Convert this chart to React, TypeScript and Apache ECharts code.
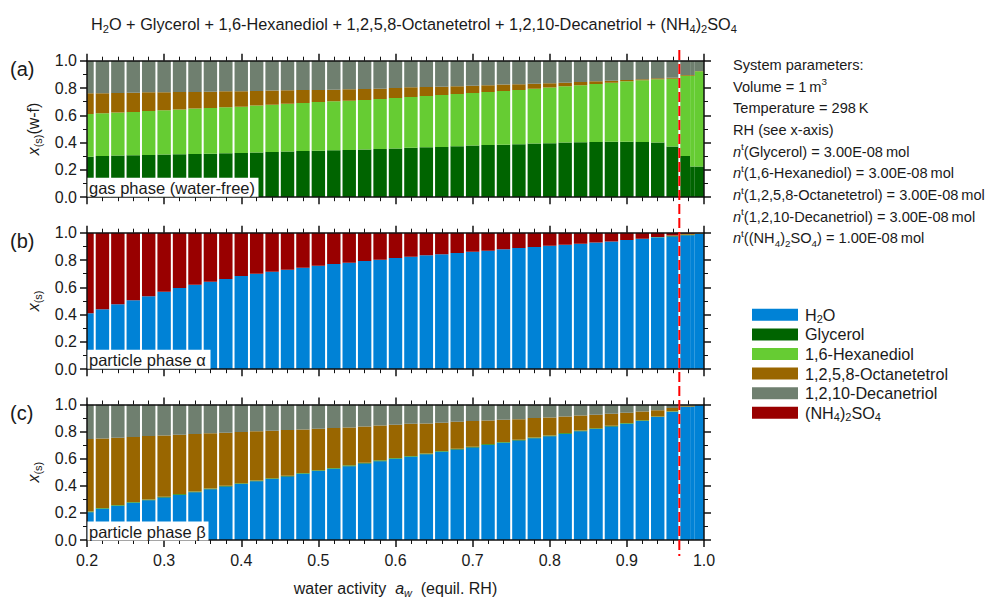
import React, { useEffect, useRef } from "react";
import * as echarts from "echarts";

// Bar bin edges in water activity (regular bins of 0.02 centred on 0.20 ... 0.96, then narrow high-aw bins)
const binEdges = [
  0.19, 0.21, 0.23, 0.25, 0.27, 0.29, 0.31, 0.33, 0.35, 0.37, 0.39, 0.41, 0.43, 0.45, 0.47, 0.49, 0.51, 0.53, 0.55, 0.57,
  0.59, 0.61, 0.63, 0.65, 0.67, 0.69, 0.71, 0.73, 0.75, 0.77, 0.79, 0.81, 0.83, 0.85, 0.87, 0.89, 0.91, 0.93, 0.95,
  0.968, 0.982, 0.988, 1.0,
];
const regularBarCount = 39;
const phaseSeparationAw = 0.968;

const names = ["H2O", "Glycerol", "1,6-Hexanediol", "1,2,5,8-Octanetetrol", "1,2,10-Decanetriol", "(NH4)2SO4"];

// (a) gas phase (water-free)
const gasGlycerol = [0.297, 0.302, 0.305, 0.307, 0.310, 0.312, 0.315, 0.317, 0.319, 0.322, 0.324, 0.327, 0.332, 0.334, 0.339, 0.341, 0.344, 0.346, 0.349, 0.354, 0.356,
  0.363, 0.366, 0.368, 0.373, 0.378, 0.383, 0.385, 0.388, 0.393, 0.395, 0.400, 0.402, 0.405, 0.407, 0.407, 0.405, 0.400, 0.371,
  0.302, 0.224, 0.224];
const gasHexanediol = [0.313, 0.313, 0.315, 0.317, 0.322, 0.325, 0.327, 0.332, 0.335, 0.337, 0.339, 0.344, 0.346, 0.351, 0.351, 0.357, 0.359, 0.361, 0.363, 0.366, 0.371,
  0.371, 0.376, 0.381, 0.383, 0.386, 0.388, 0.393, 0.398, 0.402, 0.408, 0.412, 0.418, 0.424, 0.432, 0.442, 0.451, 0.464, 0.497,
  0.588, 0.666, 0.698];
const gasOctanetetrol = [0.151, 0.146, 0.144, 0.142, 0.136, 0.131, 0.129, 0.122, 0.119, 0.117, 0.113, 0.107, 0.103, 0.098, 0.096, 0.088, 0.085, 0.083, 0.081, 0.075, 0.073,
  0.071, 0.065, 0.061, 0.056, 0.053, 0.049, 0.047, 0.041, 0.037, 0.031, 0.027, 0.024, 0.020, 0.015, 0.010, 0.008, 0.007, 0.008,
  0.005, 0.005, 0.003];
const gasDecanetriol = [0.239, 0.239, 0.236, 0.234, 0.232, 0.232, 0.229, 0.229, 0.227, 0.224, 0.224, 0.222, 0.219, 0.217, 0.214, 0.214, 0.212, 0.210, 0.207, 0.205, 0.200,
  0.195, 0.193, 0.190, 0.188, 0.183, 0.180, 0.175, 0.173, 0.168, 0.166, 0.161, 0.156, 0.151, 0.146, 0.141, 0.136, 0.129, 0.124,
  0.105, 0.105, 0.075];

// (b) particle phase alpha
const alphaWater = [0.409, 0.440, 0.475, 0.506, 0.535, 0.567, 0.594, 0.619, 0.641, 0.660, 0.682, 0.699, 0.714, 0.729, 0.743, 0.758, 0.770, 0.780, 0.792, 0.802, 0.814,
  0.824, 0.834, 0.843, 0.851, 0.860, 0.868, 0.878, 0.887, 0.895, 0.904, 0.912, 0.919, 0.929, 0.936, 0.946, 0.956, 0.966, 0.973,
  0.981, 0.981, 0.990];
const alphaGlycerol = [0, 0, 0, 0, 0, 0, 0, 0, 0, 0, 0, 0, 0, 0, 0, 0, 0, 0, 0, 0, 0,
  0, 0, 0, 0, 0, 0, 0, 0, 0, 0, 0, 0, 0, 0, 0, 0, 0.001, 0.002,
  0.002, 0.002, 0.001];
const alphaHexanediol = [0, 0, 0, 0, 0, 0, 0, 0, 0, 0, 0, 0, 0, 0, 0, 0, 0, 0, 0, 0, 0,
  0, 0, 0, 0, 0, 0, 0, 0, 0, 0, 0, 0, 0, 0, 0, 0, 0.001, 0.002,
  0.002, 0.002, 0.001];
const alphaOctanetetrol = [0, 0, 0, 0, 0, 0, 0, 0, 0, 0, 0, 0, 0, 0, 0, 0, 0, 0, 0, 0, 0,
  0, 0, 0, 0, 0, 0, 0, 0, 0, 0, 0, 0, 0, 0, 0, 0, 0, 0.002,
  0.006, 0.006, 0.004];
const alphaDecanetriol = [0, 0, 0, 0, 0, 0, 0, 0, 0, 0, 0, 0, 0, 0, 0, 0, 0, 0, 0, 0, 0,
  0, 0, 0, 0, 0, 0, 0, 0, 0, 0, 0, 0, 0, 0, 0, 0, 0, 0,
  0.002, 0.002, 0.001];
const alphaAmmoniumSulfate = [0.591, 0.560, 0.525, 0.494, 0.465, 0.433, 0.406, 0.381, 0.359, 0.340, 0.318, 0.301, 0.286, 0.271, 0.257, 0.242, 0.230, 0.220, 0.208, 0.198, 0.186,
  0.176, 0.166, 0.157, 0.149, 0.140, 0.132, 0.122, 0.113, 0.105, 0.096, 0.088, 0.081, 0.071, 0.064, 0.054, 0.044, 0.032, 0.021,
  0.007, 0.007, 0.003];

// (c) particle phase beta
const betaWater = [0.205, 0.230, 0.252, 0.274, 0.293, 0.313, 0.333, 0.352, 0.374, 0.394, 0.413, 0.433, 0.450, 0.469, 0.489, 0.509, 0.526, 0.545, 0.565, 0.582, 0.599,
  0.614, 0.633, 0.651, 0.668, 0.682, 0.702, 0.717, 0.734, 0.751, 0.766, 0.783, 0.802, 0.819, 0.838, 0.858, 0.878, 0.907, 0.946,
  0.983, 0.983, 0.996];
const betaGlycerol = [0.004, 0.004, 0.004, 0.004, 0.004, 0.004, 0.004, 0.004, 0.004, 0.004, 0.004, 0.004, 0.004, 0.004, 0.004, 0.004, 0.004, 0.004, 0.004, 0.004, 0.004,
  0.004, 0.004, 0.004, 0.004, 0.004, 0.004, 0.004, 0.004, 0.004, 0.004, 0.004, 0.004, 0.004, 0.004, 0.004, 0.004, 0.003, 0.003,
  0.002, 0.002, 0.001];
const betaHexanediol = [0.002, 0.002, 0.002, 0.002, 0.002, 0.002, 0.002, 0.002, 0.002, 0.002, 0.002, 0.002, 0.002, 0.002, 0.002, 0.002, 0.002, 0.002, 0.002, 0.002, 0.002,
  0.002, 0.002, 0.002, 0.002, 0.002, 0.002, 0.002, 0.002, 0.002, 0.002, 0.002, 0.002, 0.002, 0.002, 0.002, 0.002, 0.002, 0.002,
  0.001, 0.001, 0];
const betaOctanetetrol = [0.535, 0.514, 0.497, 0.480, 0.468, 0.453, 0.438, 0.424, 0.407, 0.392, 0.378, 0.363, 0.350, 0.336, 0.321, 0.306, 0.294, 0.280, 0.267, 0.257, 0.246,
  0.238, 0.221, 0.208, 0.199, 0.190, 0.174, 0.164, 0.152, 0.143, 0.132, 0.123, 0.111, 0.099, 0.087, 0.075, 0.064, 0.046, 0.024,
  0.006, 0.006, 0.001];
const betaDecanetriol = [0.254, 0.250, 0.245, 0.240, 0.233, 0.228, 0.223, 0.218, 0.213, 0.208, 0.203, 0.198, 0.194, 0.189, 0.184, 0.179, 0.174, 0.169, 0.162, 0.155, 0.149,
  0.142, 0.140, 0.135, 0.127, 0.122, 0.118, 0.113, 0.108, 0.100, 0.096, 0.088, 0.081, 0.076, 0.069, 0.061, 0.052, 0.042, 0.025,
  0.008, 0.008, 0.002];

const panelLabels = ["(a)", "(b)", "(c)"];
const phaseLabels = ["gas phase (water-free)", "particle phase \u03b1", "particle phase \u03b2"];
const yAxisNames = ["{i|x}{sub|(s)}(w-f)", "{i|x}{sub|(s)}", "{i|x}{sub|(s)}"];
const xAxisName = "water activity  {i|a}{isub|w}  (equil. RH)";
const titleText = "H{sub|2}O + Glycerol + 1,6-Hexanediol + 1,2,5,8-Octanetetrol + 1,2,10-Decanetriol + (NH{sub|4}){sub|2}SO{sub|4}";
const paramLines = [
  "System parameters:",
  "Volume = 1\u2009m{sup|3}",
  "Temperature = 298\u2009K",
  "RH (see x-axis)",
  "{i|n}{sup|t}(Glycerol) = 3.00E-08\u2009mol",
  "{i|n}{sup|t}(1,6-Hexanediol) = 3.00E-08\u2009mol",
  "{i|n}{sup|t}(1,2,5,8-Octanetetrol) = 3.00E-08\u2009mol",
  "{i|n}{sup|t}(1,2,10-Decanetriol) = 3.00E-08\u2009mol",
  "{i|n}{sup|t}((NH{sub|4}){sub|2}SO{sub|4}) = 1.00E-08\u2009mol",
];

const COLORS: Record<string, string> = {
  "H2O": "#0082d6",
  "Glycerol": "#006400",
  "1,6-Hexanediol": "#66cc33",
  "1,2,5,8-Octanetetrol": "#996600",
  "1,2,10-Decanetriol": "#6f7f6f",
  "(NH4)2SO4": "#990000",
};

const FONT = "'Liberation Sans', Arial, Helvetica, sans-serif";
const TXT = "#1a1a1a";
const GRID_LEFT = 87;
const GRID_WIDTH = 617;
const GRID_TOPS = [60.7, 232.7, 404.5];
const GRID_H = 136.5;
const LINE_H = 20;

function richFor(size: number) {
  const small = Math.round(size * 0.68 * 10) / 10;
  return {
    i: { fontStyle: "italic", fontSize: size, fontFamily: FONT, color: TXT, lineHeight: LINE_H },
    sub: { fontSize: small, fontFamily: FONT, color: TXT, verticalAlign: "bottom", lineHeight: 8 },
    isub: { fontSize: small, fontStyle: "italic", fontFamily: FONT, color: TXT, verticalAlign: "bottom", lineHeight: 8 },
    sup: { fontSize: small, fontFamily: FONT, color: TXT, verticalAlign: "top", lineHeight: 9 },
  };
}

function legendLabel(name: string) {
  if (name === "H2O") return "H{sub|2}O";
  if (name === "(NH4)2SO4") return "(NH{sub|4}){sub|2}SO{sub|4}";
  return name;
}

function buildPanel(p: number, comps: [string, number[]][]) {
  const base = binEdges.slice(0, -1).map(() => 0);
  return comps.map(([name, vals]) => {
    const color = COLORS[name];
    const data = vals.map((v, i) => {
      const b = base[i];
      base[i] = b + v;
      return [binEdges[i], binEdges[i + 1], b, b + v, i];
    });
    return {
      type: "custom",
      name,
      xAxisIndex: 2 * p,
      yAxisIndex: 2 * p,
      clip: true,
      silent: true,
      itemStyle: { color },
      encode: { x: [0, 1], y: [2, 3] },
      renderItem: (params: any, api: any) => {
        const i = api.value(4);
        const pA = api.coord([api.value(0), api.value(2)]);
        const pB = api.coord([api.value(1), api.value(3)]);
        const gl = i > 0 && i <= regularBarCount ? 1 : 0;
        const gr = i < regularBarCount ? 1 : 0;
        const x0 = pA[0] + gl;
        const x1 = pB[0] - gr;
        const h = pA[1] - pB[1];
        if (h <= 0) return null;
        const cs = params.coordSys;
        const shape = echarts.graphic.clipRectByRect(
          { x: x0, y: pB[1], width: x1 - x0, height: h },
          { x: cs.x, y: cs.y, width: cs.width, height: cs.height }
        );
        if (!shape) return null;
        return { type: "rect", shape, style: { fill: color } };
      },
      data,
    };
  });
}

export default function App() {
  const ref = useRef<HTMLDivElement>(null);
  useEffect(() => {
    const chart = echarts.init(ref.current!, undefined, { renderer: "svg" });
    const axisLine = { show: true, onZero: false, lineStyle: { color: "#111", width: 1.5 } };
    const grids: any[] = [];
    const xAxes: any[] = [];
    const yAxes: any[] = [];
    for (let p = 0; p < 3; p++) {
      grids.push({ left: GRID_LEFT, width: GRID_WIDTH, top: GRID_TOPS[p], height: GRID_H });
      for (const pos of ["bottom", "top"]) {
        xAxes.push({
          type: "value", gridIndex: p, position: pos, min: 0.2, max: 1.0, interval: 0.1, z: 5,
          axisLine,
          axisTick: { show: true, length: 7, lineStyle: { color: "#111", width: 1.5 } },
          minorTick: { show: true, splitNumber: 5, length: 4, lineStyle: { color: "#111", width: 1 } },
          splitLine: { show: false },
          axisLabel: {
            show: p === 2 && pos === "bottom", margin: 12, fontSize: 16, fontFamily: FONT, color: TXT,
            formatter: (v: number) => v.toFixed(1),
          },
          ...(p === 2 && pos === "bottom"
            ? {
                name: xAxisName,
                nameLocation: "middle", nameGap: 38,
                nameTextStyle: { fontSize: 16, fontFamily: FONT, color: TXT, lineHeight: LINE_H, rich: richFor(16) },
              }
            : {}),
        });
      }
      for (const pos of ["left", "right"]) {
        yAxes.push({
          type: "value", gridIndex: p, position: pos, min: 0, max: 1, interval: 0.2, z: 5,
          axisLine,
          axisTick: { show: true, length: 7, lineStyle: { color: "#111", width: 1.5 } },
          minorTick: { show: true, splitNumber: 2, length: 4, lineStyle: { color: "#111", width: 1 } },
          splitLine: { show: false },
          axisLabel: {
            show: pos === "left", margin: 10, fontSize: 16, fontFamily: FONT, color: TXT,
            formatter: (v: number) => v.toFixed(1),
          },
          ...(pos === "left"
            ? {
                name: yAxisNames[p], nameLocation: "middle", nameGap: 36, nameRotate: 90,
                nameTextStyle: { fontSize: 16, fontFamily: FONT, color: TXT, lineHeight: LINE_H, rich: richFor(16) },
              }
            : {}),
        });
      }
    }

    const series = [
      ...buildPanel(0, [
        ["Glycerol", gasGlycerol],
        ["1,6-Hexanediol", gasHexanediol],
        ["1,2,5,8-Octanetetrol", gasOctanetetrol],
        ["1,2,10-Decanetriol", gasDecanetriol],
      ]),
      ...buildPanel(1, [
        ["H2O", alphaWater],
        ["Glycerol", alphaGlycerol],
        ["1,6-Hexanediol", alphaHexanediol],
        ["1,2,5,8-Octanetetrol", alphaOctanetetrol],
        ["1,2,10-Decanetriol", alphaDecanetriol],
        ["(NH4)2SO4", alphaAmmoniumSulfate],
      ]),
      ...buildPanel(2, [
        ["H2O", betaWater],
        ["Glycerol", betaGlycerol],
        ["1,6-Hexanediol", betaHexanediol],
        ["1,2,5,8-Octanetetrol", betaOctanetetrol],
        ["1,2,10-Decanetriol", betaDecanetriol],
      ]),
    ];

    chart.setOption({
      animation: false,
      backgroundColor: "#ffffff",
      textStyle: { fontFamily: FONT },
      title: {
        text: titleText,
        left: 86, top: 9,
        textStyle: { fontSize: 16.3, fontWeight: "normal", fontFamily: FONT, color: TXT, lineHeight: LINE_H, rich: richFor(16.3) },
      },
      legend: {
        data: names, left: 747, top: 300, orient: "vertical", icon: "rect",
        itemWidth: 46, itemHeight: 12, itemGap: 0, selectedMode: false,
        formatter: legendLabel,
        textStyle: {
          fontSize: 16.2, fontFamily: FONT, color: TXT, lineHeight: 19.6, padding: [0, 0, 0, 2],
          rich: {
            sub: { fontSize: 11, fontFamily: FONT, color: TXT, verticalAlign: "bottom", lineHeight: 7 },
          },
        },
      },
      grid: grids,
      xAxis: xAxes,
      yAxis: yAxes,
      series,
    });

    const xLine = chart.convertToPixel({ xAxisIndex: 0 } as any, phaseSeparationAw) as unknown as number;
    const graphics: any[] = [];
    for (let p = 0; p < 3; p++) {
      const bottom = GRID_TOPS[p] + GRID_H;
      const boxW = [171, 123, 121][p];
      graphics.push({ type: "rect", z: 100, shape: { x: GRID_LEFT + 0.5, y: bottom - 19.5, width: boxW, height: 19 }, style: { fill: "#ffffff" } });
      graphics.push({
        type: "text", z: 101, x: GRID_LEFT + 2, y: bottom - 9.5,
        style: { text: phaseLabels[p], fontSize: 16.5, fontFamily: FONT, fill: TXT, verticalAlign: "middle", align: "left" },
      });
      graphics.push({
        type: "text", z: 101, x: 10, y: GRID_TOPS[p] + 8,
        style: { text: panelLabels[p], fontSize: 20, fontFamily: FONT, fill: TXT, verticalAlign: "middle", align: "left" },
      });
    }
    paramLines.forEach((t, k) => {
      graphics.push({
        type: "text", z: 101, x: 733, y: 65 + k * 21.67,
        style: { text: t, fontSize: 14.6, fontFamily: FONT, fill: TXT, verticalAlign: "middle", align: "left", lineHeight: LINE_H, rich: richFor(14.6) },
      });
    });
    graphics.push({
      type: "line", z: 110,
      shape: { x1: xLine, y1: 50, x2: xLine, y2: 556 },
      style: { stroke: "#ff0000", lineWidth: 2, lineDash: [10, 4] },
    });
    chart.setOption({ graphic: graphics });

    return () => chart.dispose();
  }, []);
  return <div ref={ref} style={{ position: "fixed", left: 0, top: 0, width: 987, height: 599, background: "#fff" }} />;
}
